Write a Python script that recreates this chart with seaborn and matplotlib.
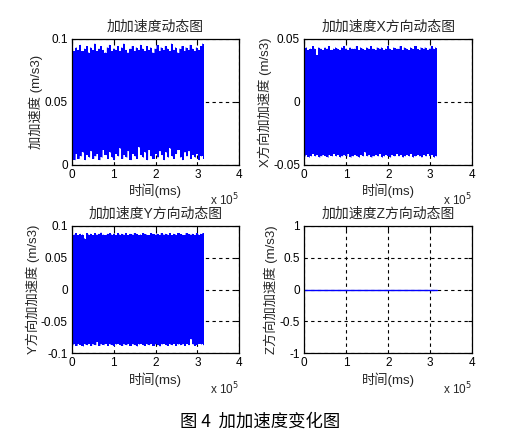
import numpy as np
import pandas as pd
import seaborn as sns
import matplotlib
matplotlib.use('Agg')
import matplotlib.pyplot as plt

# ===============================
# Data (envelopes)
# ===============================
t_end = 3.15e5

titles = ['加加速度动态图', '加加速度X方向动态图', '加加速度Y方向动态图', '加加速度Z方向动态图']
ylabels = ['加加速度 (m/s3)', 'X方向加加速度 (m/s3)', 'Y方向加加速度 (m/s3)', 'Z方向加加速度 (m/s3)']
xlabel = '时间(ms)'
caption = '图 4  加加速度变化图'

jerk_upper = [0.092, 0.090, 0.093, 0.091, 0.095, 0.090, 0.092, 0.094, 0.089, 0.093, 0.091, 0.096, 0.090, 0.092,
              0.094, 0.091, 0.089, 0.093, 0.095, 0.090, 0.092, 0.091, 0.094, 0.090, 0.093, 0.096, 0.091, 0.089,
              0.092, 0.094, 0.090, 0.093, 0.091, 0.095, 0.092, 0.090, 0.094, 0.091, 0.093, 0.089, 0.092, 0.095,
              0.090, 0.093, 0.091, 0.094, 0.092, 0.090, 0.096, 0.091, 0.093, 0.089, 0.092, 0.094, 0.090, 0.093,
              0.091, 0.095, 0.092, 0.090, 0.093, 0.091, 0.094, 0.096]
jerk_lower = [0.006, 0.004, 0.009, 0.005, 0.007, 0.010, 0.004, 0.008, 0.006, 0.011, 0.005, 0.007, 0.009, 0.004,
              0.006, 0.012, 0.008, 0.005, 0.010, 0.006, 0.004, 0.009, 0.007, 0.013, 0.005, 0.008, 0.006, 0.011,
              0.004, 0.009, 0.007, 0.005, 0.014, 0.008, 0.006, 0.010, 0.004, 0.012, 0.007, 0.005, 0.009, 0.006,
              0.011, 0.008, 0.004, 0.010, 0.006, 0.013, 0.007, 0.005, 0.009, 0.012, 0.006, 0.004, 0.010, 0.007,
              0.011, 0.005, 0.008, 0.006, 0.009, 0.004, 0.007, 0.005]

x_upper = [0.042, 0.043, 0.041, 0.042, 0.044, 0.042, 0.037, 0.043, 0.042, 0.041, 0.043, 0.042, 0.044, 0.041,
           0.042, 0.043, 0.042, 0.041, 0.043, 0.044, 0.042, 0.041, 0.043, 0.042, 0.042, 0.044, 0.041, 0.043,
           0.042, 0.041, 0.043, 0.042, 0.044, 0.042, 0.041, 0.043, 0.042, 0.043, 0.041, 0.042, 0.044, 0.042,
           0.041, 0.043, 0.042, 0.042, 0.044, 0.041, 0.043, 0.042, 0.041, 0.043, 0.042, 0.044, 0.042, 0.041,
           0.043, 0.042, 0.043, 0.041, 0.042, 0.044, 0.042, 0.043]
x_lower = [-0.043, -0.042, -0.044, -0.043, -0.041, -0.043, -0.042, -0.044, -0.043, -0.042, -0.043, -0.044,
           -0.042, -0.043, -0.041, -0.043, -0.042, -0.044, -0.043, -0.042, -0.043, -0.041, -0.044, -0.043,
           -0.042, -0.043, -0.044, -0.042, -0.043, -0.040, -0.043, -0.042, -0.044, -0.043, -0.042, -0.043,
           -0.041, -0.044, -0.043, -0.042, -0.043, -0.044, -0.042, -0.043, -0.041, -0.043, -0.042, -0.044,
           -0.043, -0.042, -0.043, -0.041, -0.044, -0.043, -0.042, -0.043, -0.044, -0.042, -0.043, -0.041,
           -0.043, -0.042, -0.044, -0.043]

y_upper = [0.087, 0.086, 0.088, 0.085, 0.087, 0.086, 0.080, 0.088, 0.086, 0.087, 0.085, 0.088, 0.086, 0.087,
           0.089, 0.086, 0.085, 0.087, 0.088, 0.086, 0.087, 0.085, 0.088, 0.086, 0.087, 0.086, 0.088, 0.085,
           0.087, 0.086, 0.088, 0.087, 0.085, 0.086, 0.088, 0.087, 0.086, 0.085, 0.088, 0.087, 0.086, 0.087,
           0.085, 0.088, 0.086, 0.087, 0.086, 0.088, 0.085, 0.087, 0.086, 0.088, 0.087, 0.086, 0.085, 0.088,
           0.087, 0.086, 0.087, 0.085, 0.088, 0.086, 0.087, 0.088]
y_lower = [-0.087, -0.086, -0.088, -0.085, -0.087, -0.089, -0.086, -0.087, -0.085, -0.088, -0.086, -0.087,
           -0.082, -0.088, -0.086, -0.087, -0.085, -0.088, -0.086, -0.087, -0.089, -0.086, -0.085, -0.087,
           -0.088, -0.086, -0.087, -0.085, -0.088, -0.086, -0.087, -0.089, -0.086, -0.085, -0.087, -0.088,
           -0.086, -0.087, -0.085, -0.088, -0.086, -0.087, -0.089, -0.086, -0.085, -0.087, -0.088, -0.086,
           -0.087, -0.085, -0.088, -0.086, -0.087, -0.086, -0.088, -0.085, -0.087, -0.078, -0.086, -0.088,
           -0.087, -0.085, -0.086, -0.087]

z_values = [0.0, 0.0]

ylims = [(0, 0.1), (-0.05, 0.05), (-0.1, 0.1), (-1, 1)]
yticks = [[0, 0.05, 0.1], [-0.05, 0, 0.05], [-0.1, -0.05, 0, 0.05, 0.1], [-1, -0.5, 0, 0.5, 1]]
yticklabels = [['0', '0.05', '0.1'], ['-0.05', '0', '0.05'],
               ['-0.1', '-0.05', '0', '0.05', '0.1'], ['-1', '-0.5', '0', '0.5', '1']]
xticks = [0, 1e5, 2e5, 3e5, 4e5]
xticklabels = ['0', '1', '2', '3', '4']

envelopes = [(jerk_upper, jerk_lower), (x_upper, x_lower), (y_upper, y_lower), None]


def zigzag(upper, lower):
    # alternate max/min samples so the dense signal looks like the filled band
    vals = np.empty(2 * len(upper))
    vals[0::2] = upper
    vals[1::2] = lower
    t = np.linspace(0, t_end, len(vals))
    return pd.DataFrame({'t': t, 'v': vals})


series = [zigzag(jerk_upper, jerk_lower), zigzag(x_upper, x_lower), zigzag(y_upper, y_lower),
          pd.DataFrame({'t': np.linspace(0, t_end, len(z_values)), 'v': z_values})]

# ===============================
# Figure
# ===============================
sns.set_style('white')
plt.rcParams['font.family'] = ['Liberation Sans', 'Noto Sans CJK SC', 'DejaVu Sans']
plt.rcParams['font.size'] = 8.5
plt.rcParams['axes.unicode_minus'] = False

fig = plt.figure(figsize=(5.30, 4.42), dpi=100)
fig.patch.set_facecolor('white')

boxes = [[0.136, 0.627, 0.315, 0.285], [0.574, 0.627, 0.317, 0.285],
         [0.136, 0.201, 0.315, 0.288], [0.574, 0.201, 0.317, 0.288]]
blue = '#0000ff'

for i in range(4):
    ax = fig.add_axes(boxes[i])
    ax.set_axisbelow(True)
    ax.grid(True, color='black', linestyle=(0, (3, 3)), linewidth=0.8)
    if envelopes[i] is not None:
        up, lo = envelopes[i]
        te = np.linspace(0, t_end, len(up))
        ax.fill_between(te, lo, up, step='mid', color=blue, linewidth=0, zorder=2)
        lw = 0.6
    else:
        lw = 1.0
    sns.lineplot(data=series[i], x='t', y='v', ax=ax, color=blue, linewidth=lw,
                 estimator=None, sort=False, zorder=3)
    ax.set_xlim(0, 4e5)
    ax.set_ylim(*ylims[i])
    ax.set_xticks(xticks)
    ax.set_xticklabels(xticklabels)
    ax.set_yticks(yticks[i])
    ax.set_yticklabels(yticklabels[i])
    ax.tick_params(direction='in', top=True, right=True, length=3, width=0.8,
                   labelsize=8.5, colors='black', pad=3)
    for sp in ax.spines.values():
        sp.set_color('black')
        sp.set_linewidth(0.9)
        sp.set_zorder(4)
    ax.set_title(titles[i], fontsize=10, pad=6)
    ax.set_xlabel(xlabel, fontsize=9.5, labelpad=2)
    ax.set_ylabel(ylabels[i], fontsize=9.5, labelpad=1)
    ax.text(1.0, -0.28, r'x 10$^5$', transform=ax.transAxes, ha='right', va='center', fontsize=8.5)

fig.text(0.49, 0.045, caption, ha='center', va='center', fontsize=12.5, color='black',
         family=['Noto Sans CJK SC', 'DejaVu Sans'])

fig.savefig('out.png', dpi=100)
